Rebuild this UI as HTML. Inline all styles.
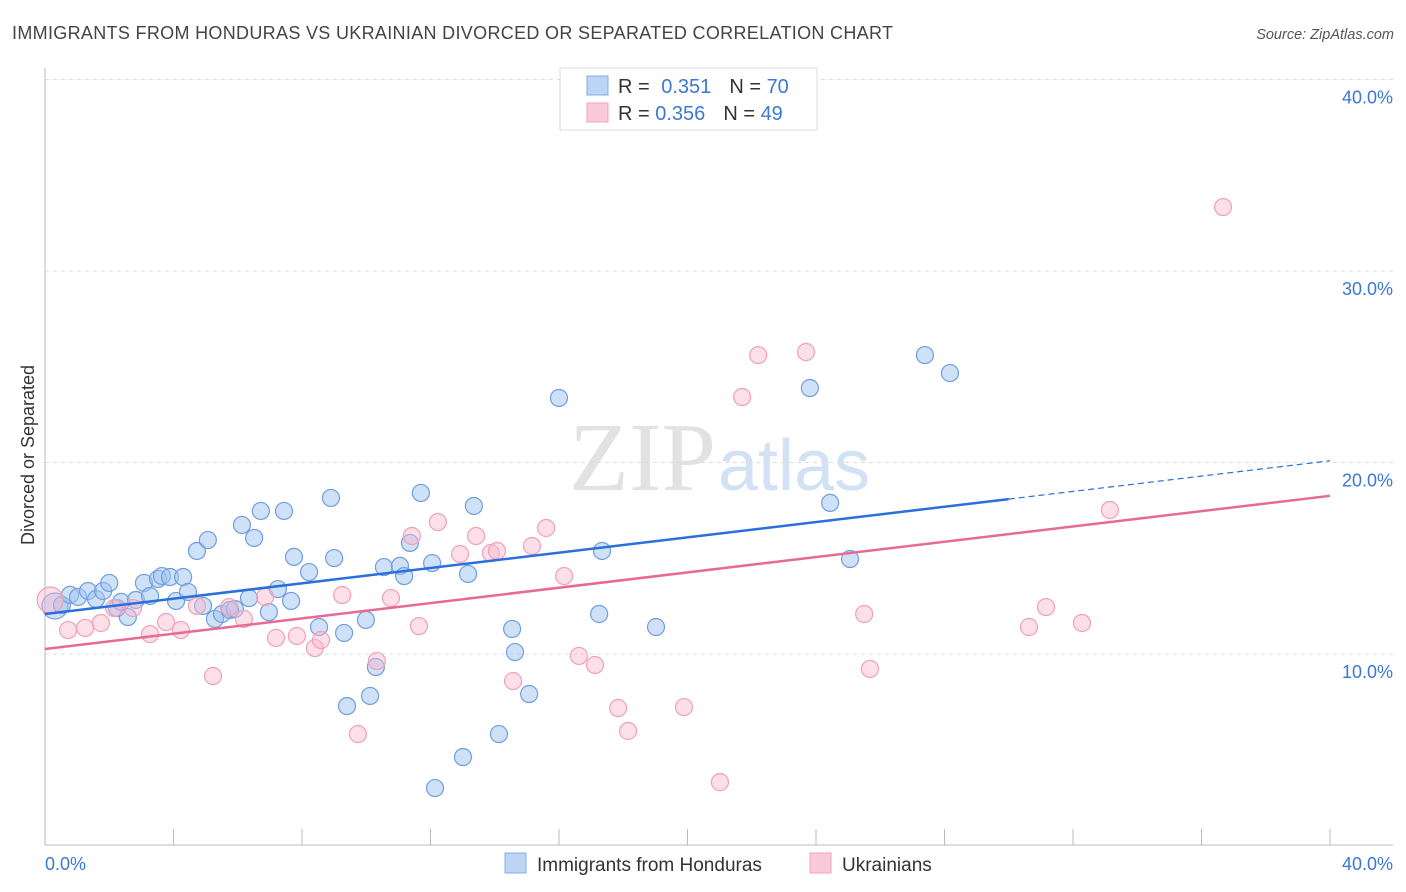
<!DOCTYPE html>
<html><head><meta charset="utf-8"><style>
body{margin:0;background:#fff;font-family:"Liberation Sans",sans-serif;}
svg{display:block}
</style></head><body>
<svg id="chart" width="1406" height="892">
<text x="12" y="39" font-size="18" fill="#444" textLength="881" lengthAdjust="spacing">IMMIGRANTS FROM HONDURAS VS UKRAINIAN DIVORCED OR SEPARATED CORRELATION CHART</text>
<text x="1394" y="39" font-size="14.5" fill="#555" font-style="italic" text-anchor="end">Source: ZipAtlas.com</text>
<text x="716" y="490" font-size="98" fill="#e2e2e2" text-anchor="end" font-family="Liberation Serif,serif">ZIP</text>
<text x="718" y="490" font-size="72" fill="#d3e1f4">atlas</text>
<g id="grid"></g>
<g id="axes"></g>
<g id="marks"></g>
<text transform="translate(34,455) rotate(-90)" font-size="18" fill="#333" text-anchor="middle">Divorced or Separated</text>
<g>
<rect x="560" y="68" width="257" height="62" fill="#fff" stroke="#ddd"/>
<rect x="587" y="76" width="21" height="19" fill="#bcd4f5" stroke="#86aee6"/>
<rect x="587" y="103" width="21" height="19" fill="#fbcad8" stroke="#f1a3bb"/>
<text x="618" y="93" font-size="20" fill="#333">R = <tspan fill="#3a78d8" dx="6">0.351</tspan><tspan dx="18" fill="#333">N = </tspan><tspan fill="#3a78d8">70</tspan></text>
<text x="618" y="120" font-size="20" fill="#333">R = <tspan fill="#3a78d8">0.356</tspan><tspan dx="18" fill="#333">N = </tspan><tspan fill="#3a78d8">49</tspan></text>
</g>
<g>
<rect x="505" y="853" width="21" height="20" fill="#bcd4f5" stroke="#86aee6"/>
<text x="537" y="871" font-size="19" fill="#333">Immigrants from Honduras</text>
<rect x="810" y="853" width="21" height="20" fill="#fbcad8" stroke="#f1a3bb"/>
<text x="842" y="871" font-size="19" fill="#333">Ukrainians</text>
</g>
</svg>
<script>
const yTicks=[10,20,30,40];
const yTickLabels=["10.0%","20.0%","30.0%","40.0%"];
const xLabels=["0.0%","40.0%"];
const blueX=[0.31,0.53,0.78,1.03,1.34,1.59,1.81,2.00,2.24,2.37,2.58,2.83,3.08,3.27,3.52,3.64,3.89,4.08,4.30,4.45,4.73,4.92,5.07,5.29,5.51,5.76,5.91,6.13,6.35,6.51,6.72,6.97,7.25,7.44,7.66,7.75,8.22,8.53,8.90,9.00,9.31,9.40,9.99,10.12,10.30,10.55,11.05,11.18,11.36,11.70,12.05,13.17,13.35,14.54,14.63,15.07,14.13,13.01,12.14,16.00,17.34,17.25,19.02,23.81,24.44,25.06,27.39,28.17];
const blueY=[12.51,12.56,13.09,12.98,13.29,12.87,13.29,13.71,12.40,12.72,11.93,12.82,13.71,13.03,13.92,14.07,14.02,12.77,14.02,13.24,15.38,12.51,15.95,11.83,12.09,12.30,12.35,16.74,12.92,16.06,17.47,12.19,13.39,17.47,12.77,15.07,14.28,11.41,18.15,15.01,11.10,7.28,11.78,7.81,9.32,14.54,14.60,14.07,15.80,18.41,14.75,14.18,17.73,11.31,10.10,7.91,5.82,4.62,3.00,23.37,15.38,12.09,11.41,23.89,17.89,14.96,25.61,24.67];
const pinkX=[0.16,0.72,1.25,1.74,2.15,2.74,3.27,3.77,4.23,5.23,4.73,5.73,6.19,6.85,7.19,7.84,8.40,8.59,9.25,9.74,10.33,10.77,11.64,11.42,12.23,12.92,13.42,13.88,14.07,15.16,15.60,14.57,16.16,16.62,17.12,17.84,18.15,19.89,21.01,21.70,22.20,23.69,25.50,25.68,30.63,31.16,32.28,33.15,36.67];
const pinkY=[12.82,11.25,11.36,11.62,12.40,12.40,11.04,11.67,11.25,8.85,12.51,12.45,11.83,12.98,10.84,10.94,10.31,10.73,13.08,5.82,9.63,12.92,11.46,16.16,16.89,15.22,16.16,15.27,15.38,15.64,16.58,8.59,14.07,9.90,9.43,7.18,5.98,7.23,3.31,23.42,25.61,25.77,12.09,9.22,11.41,12.45,11.62,17.52,33.34];
const blueTrend=[12.09,0.2];
const pinkTrend=[10.26,0.2];
const NS="http://www.w3.org/2000/svg";
const sx=v=>45+v/40*1285;
const sy=v=>654-(v-10)*19.15;
function mk(t,a,p){const e=document.createElementNS(NS,t);for(const k in a)e.setAttribute(k,a[k]);p.appendChild(e);return e;}
const grid=document.getElementById('grid'),axes=document.getElementById('axes'),marks=document.getElementById('marks');
yTicks.forEach((v,i)=>{
 const l=mk('line',{x1:45,x2:1393,y1:sy(v),y2:sy(v),stroke:'#ddd','stroke-dasharray':'4,4'},grid);
 
 
 const t=mk('text',{x:1393,y:sy(v)+24,'font-size':18,fill:'#3a78d8','text-anchor':'end'},axes);
 t.textContent=yTickLabels[i];
 
 
});
const ax=mk('line',{x1:45,x2:45,y1:68,y2:845,stroke:'#bbb'},axes);


const bx=mk('line',{x1:45,x2:1393,y1:845,y2:845,stroke:'#bbb'},axes);


for(let k=0;k<=10;k++){const x=sx(k*4);const tk=mk('line',{x1:x,x2:x,y1:829,y2:845,stroke:'#bbb'},axes);
 
 }
const xl0=mk('text',{x:45,y:870,'font-size':18,fill:'#3a78d8'},axes);xl0.textContent=xLabels[0];


const xl1=mk('text',{x:1393,y:870,'font-size':18,fill:'#3a78d8','text-anchor':'end'},axes);xl1.textContent=xLabels[1];


function pts(X,Y,fill,stroke,name){X.forEach((x,i)=>{const big=i===0;
 const c=mk('circle',{cx:sx(x),cy:sy(Y[i]),r:big?13:8.5,fill:fill,stroke:stroke,'stroke-width':1.2},marks);
 
 });}
pts(blueX,blueY,'rgba(160,196,240,0.5)','#6f9ee0','point-honduras');
pts(pinkX,pinkY,'rgba(248,185,203,0.45)','#f0a0b8','point-ukrainians');
const bs=mk('line',{x1:sx(0),y1:sy(blueTrend[0]),x2:sx(30),y2:sy(blueTrend[0]+30*blueTrend[1]),stroke:'#2a6fdb','stroke-width':2.5},marks);


const bd=mk('line',{x1:sx(30),y1:sy(blueTrend[0]+30*blueTrend[1]),x2:sx(40),y2:sy(blueTrend[0]+40*blueTrend[1]),stroke:'#2a6fdb','stroke-width':1.2,'stroke-dasharray':'6,4'},marks);


const ps=mk('line',{x1:sx(0),y1:sy(pinkTrend[0]),x2:sx(40),y2:sy(pinkTrend[0]+40*pinkTrend[1]),stroke:'#e86a93','stroke-width':2.5},marks);


</script>
</body></html>
